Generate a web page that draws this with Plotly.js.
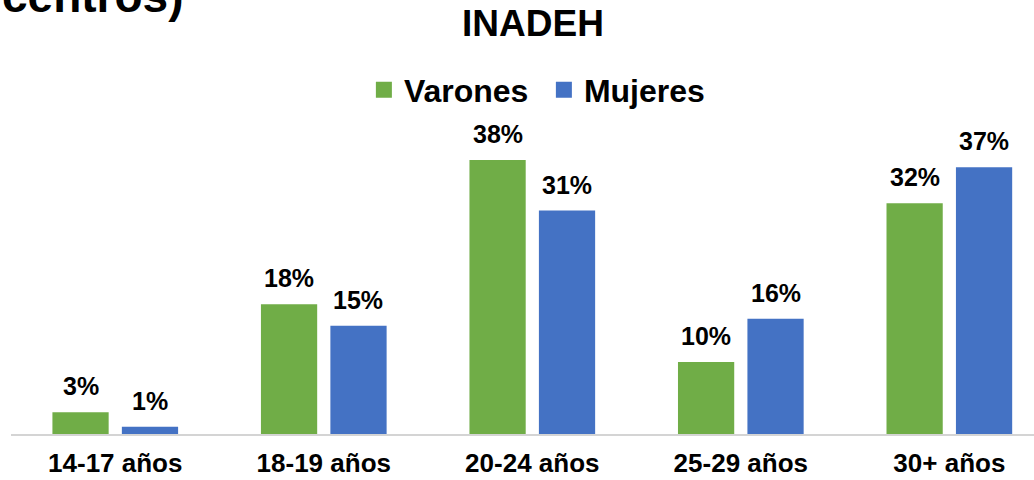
<!DOCTYPE html>
<html>
<head>
<meta charset="utf-8">
<script src="https://cdn.plot.ly/plotly-3.0.1.min.js"></script>
<style>html,body{margin:0;padding:0;background:#fff;}#chart{width:1034px;height:480px;}</style>
</head>
<body>
<div id="chart"></div>
<script>
const categories = ["14-17 años", "18-19 años", "20-24 años", "25-29 años", "30+ años"];
const varones = [3, 18, 38, 10, 32];
const mujeres = [1, 15, 31, 16, 37];
const seriesNames = ["Varones", "Mujeres"];
const chartTitle = "INADEH";
const headerText = "centros)";

const FONT = "Liberation Sans, Arial, sans-serif";
const GREEN = "#70AD47";
const BLUE = "#4472C4";

function barTrace(name, values, color) {
  return {
    type: "bar",
    name: name,
    x: categories,
    y: values,
    marker: {color: color, line: {width: 0}},
    showlegend: false,
    hoverinfo: "skip"
  };
}
function legendTrace(name, color) {
  return {
    type: "scatter", mode: "markers", name: name,
    x: [null], y: [null],
    marker: {symbol: "square", size: 16, color: color, line: {width: 0}},
    showlegend: true
  };
}

const data = [
  barTrace(seriesNames[0], varones, GREEN),
  barTrace(seriesNames[1], mujeres, BLUE),
  legendTrace(seriesNames[0], GREEN),
  legendTrace(seriesNames[1], BLUE)
];

// value labels above bars, placed at the data point through the axes
const labelAnnotations = [];
[[varones, -34.7], [mujeres, 34.7]].forEach(function (pair) {
  const vals = pair[0], shift = pair[1];
  vals.forEach(function (v, i) {
    labelAnnotations.push({
      text: "<b>" + v + "%</b>",
      xref: "x", yref: "y", x: categories[i], y: v,
      xanchor: "center", yanchor: "middle",
      xshift: shift, yshift: 26,
      showarrow: false,
      font: {family: FONT, size: 25, color: "#000"}
    });
  });
});

const layout = {
  width: 1034, height: 480,
  margin: {l: 11, r: 0, t: 110, b: 46, pad: 0, autoexpand: false},
  paper_bgcolor: "#fff", plot_bgcolor: "#fff",
  font: {family: FONT, color: "#000"},
  barmode: "group",
  bargap: 0.334,
  bargroupgap: 0.19,
  title: {
    text: "<b>" + chartTitle + "</b>",
    font: {family: FONT, size: 37, color: "#000"},
    xref: "container", x: 0.5155, xanchor: "center",
    yref: "container", y: 0.953, yanchor: "middle"
  },
  legend: {
    orientation: "h",
    xref: "container", x: 0.526, xanchor: "center",
    yref: "container", y: 0.8125, yanchor: "middle",
    font: {family: FONT, size: 32, color: "#000", weight: "bold"},
    itemsizing: "trace",
    itemwidth: 30,
    entrywidth: 135,
    entrywidthmode: "pixels",
    bgcolor: "rgba(0,0,0,0)"
  },
  xaxis: {
    type: "category",
    range: [-0.5, 4.406],
    showline: true, linecolor: "#d4d4d4", linewidth: 1.5,
    showgrid: false, zeroline: false, ticks: "",
    ticklabelstandoff: 5,
    tickfont: {family: FONT, size: 26, color: "#000", weight: "bold"},
    automargin: false, fixedrange: true
  },
  yaxis: {
    range: [0, 44.94],
    visible: false, showgrid: false, zeroline: false,
    fixedrange: true
  },
  annotations: [{
    text: "<b>" + headerText + "</b>",
    xref: "paper", yref: "paper",
    x: -0.01075, y: 1.264, xanchor: "left", yanchor: "bottom",
    showarrow: false,
    font: {family: FONT, size: 46, color: "#000"}
  }].concat(labelAnnotations),
  showlegend: true
};

Plotly.newPlot("chart", data, layout, {displayModeBar: false, staticPlot: true});
</script>
</body>
</html>
